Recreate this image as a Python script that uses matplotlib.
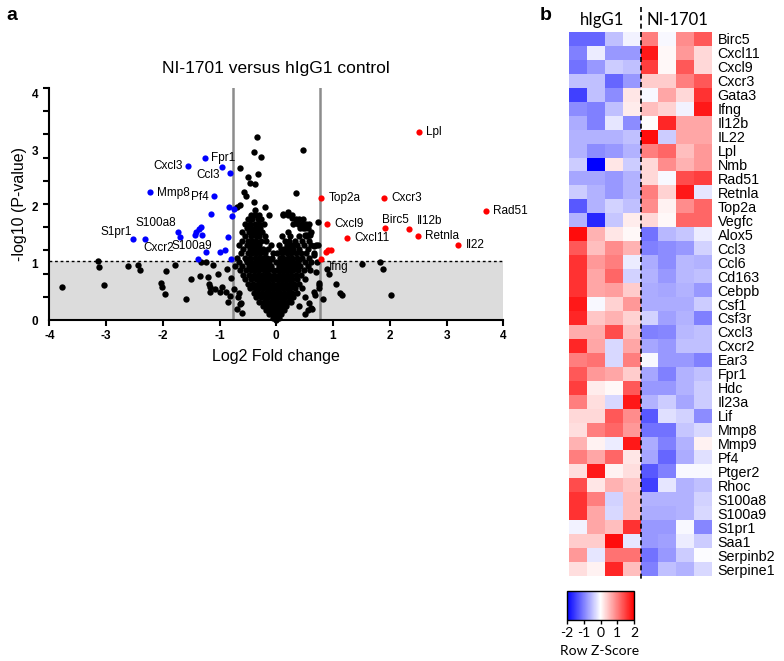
import numpy as np
import matplotlib
matplotlib.use('Agg')
import matplotlib.pyplot as plt
from matplotlib.colors import LinearSegmentedColormap

plt.rcParams['font.family'] = ['Liberation Sans', 'DejaVu Sans']
plt.rcParams['axes.unicode_minus'] = False

# ---------------- Volcano data ----------------
threshold = 1.05
fc_cut = 0.765

red_x = [2.517, 0.794, 1.905, 3.698, 1.922, 2.334, 2.498, 3.210, 0.899, 1.247, 0.876, 0.917, 0.965, 0.794]
red_y = [3.32, 2.15, 2.16, 1.92, 1.63, 1.60, 1.49, 1.32, 1.69, 1.45, 1.20, 1.24, 1.24, 1.07]
red_lab = ['Lpl', 'Top2a', 'Cxcr3', 'Rad51', 'Birc5', 'Il12b', 'Retnla', 'Il22', 'Cxcl9', 'Cxcl11', '', '', '', 'Ifng']

blue_x = [-1.258, -1.557, -0.965, -0.811, -2.234, -1.099, -1.152, -0.829, -0.753, -0.776,
          -1.728, -1.705, -2.517, -2.316, -1.44, -1.41, -1.37, -1.33, -1.31,
          -0.852, -1.240, -1.000, -0.899, -1.388, -0.799]
blue_y = [2.86, 2.73, 2.71, 2.60, 2.27, 2.19, 1.87, 1.99, 1.96, 1.84,
          1.56, 1.46, 1.43, 1.43, 1.51, 1.55, 1.61, 1.65, 1.50,
          1.47, 1.20, 1.20, 1.23, 1.08, 1.08]
blue_lab = ['Fpr1', 'Cxcl3', '', 'Ccl3', 'Mmp8', 'Pf4', '', '', '', '',
            'S100a8', 'S100a9', 'S1pr1', 'Cxcr2', '', '', '', '', '',
            '', '', '', '', '', '']

# label offsets in pixels (dx, dy, ha)
label_offsets = {
    'Fpr1': (6, 0, 'left'), 'Cxcl3': (-5, 0, 'right'), 'Ccl3': (-10, -2, 'right'),
    'Mmp8': (7, -1, 'left'), 'Pf4': (-5, -1, 'right'), 'S100a8': (-2, 9, 'right'),
    'S100a9': (-8, -9, 'left'), 'S1pr1': (-2, 7, 'right'), 'Cxcr2': (-1, -9, 'left'),
    'Lpl': (7, 0, 'left'), 'Top2a': (7, 0, 'left'), 'Cxcr3': (7, 0, 'left'),
    'Rad51': (7, 0, 'left'), 'Birc5': (-3, 8, 'left'), 'Il12b': (8, 8, 'left'),
    'Retnla': (7, 0, 'left'), 'Il22': (7, 0, 'left'), 'Cxcl9': (7, 0, 'left'),
    'Cxcl11': (7, 0, 'left'), 'Ifng': (8, -7.5, 'left'),
}

# sparse non-significant points
sparse_x = [-3.774, -3.134, -3.116, -3.028, -2.605, -2.44, -2.41, -2.028, -2.016, -1.97,
            -1.945, -1.787, -1.593, -1.505, -1.328, -1.34, -1.247, -1.212, -1.111, -1.18,
            -1.175, -1.17, -1.076, -1.028, -0.988, -0.958, -0.894, -0.87, -0.859, -0.647,
            -0.658, -0.72, -0.80, -0.75, -0.68, -0.62, -0.70, -0.82, -0.60,
            -0.341, -0.40, -0.265, 0.47, -0.635, -0.33, -0.50, -0.459, -0.37, -0.577,
            -0.53, 0.347, -0.40, -0.635, -0.693, -0.37, -0.206, -0.135, 0.11, 0.206,
            0.277, 0.347, 0.735, 0.47, 0.51, 0.57, 0.66, 0.73, 0.66, 0.45, 0.54, 0.60,
            0.92, 1.05, 1.13, 1.16, 2.02, 1.51, 1.82, 1.88, 0.746, 0.758, 0.69, 0.817,
            0.63, 0.70, 0.75, 0.66, 0.58, 0.55, 0.50, 0.62, 0.90]
sparse_y = [0.59, 1.05, 0.93, 0.61, 0.95, 0.97, 0.88, 0.65, 0.59, 0.46,
            0.87, 0.97, 0.37, 0.73, 1.03, 0.78, 1.02, 0.76, 0.97, 0.64,
            0.58, 0.50, 0.54, 0.81, 0.50, 0.59, 0.50, 0.90, 0.31, 0.29,
            0.47, 0.95, 0.75, 0.55, 0.40, 0.30, 0.20, 0.42, 0.12,
            3.24, 2.97, 2.88, 3.01, 2.68, 2.58, 2.53, 2.42, 2.40, 2.27,
            2.19, 2.24, 2.09, 2.04, 1.99, 1.95, 2.00, 1.86, 1.87, 1.90,
            1.81, 1.74, 1.74, 1.62, 1.50, 1.50, 1.30, 1.33, 1.15, 1.64, 1.50, 1.50,
            0.81, 0.64, 0.47, 0.44, 0.44, 0.99, 1.02, 0.90, 0.62, 0.56, 0.44, 0.37,
            0.19, 0.85, 0.65, 0.50, 0.30, 0.18, 0.10, 0.22, 0.90]

# dense central cloud, listed per -log10(P) level
cloud_rows = [
    (1.85, [-0.45, -0.38, -0.30, 0.12, 0.20, 0.28]),
    (1.78, [-0.50, -0.42, -0.33, -0.27, 0.35, 0.40, 0.47]),
    (1.70, [-0.55, -0.46, -0.38, -0.30, -0.22, 0.30, 0.38, 0.45, 0.52, 0.58]),
    (1.62, [-0.52, -0.44, -0.36, -0.28, 0.42, 0.50, 0.56]),
    (1.55, [-0.60, -0.48, -0.40, -0.33, -0.25, 0.20, 0.62]),
    (1.48, [-0.55, -0.45, -0.36, -0.30, -0.20, 0.10, 0.25, 0.40, 0.52]),
    (1.40, [-0.60, -0.50, -0.42, -0.35, -0.27, -0.18, 0.15, 0.22, 0.33, 0.45, 0.58]),
    (1.32, [-0.65, -0.52, -0.44, -0.38, -0.30, -0.10, 0.05, 0.18, 0.28, 0.36, 0.48, 0.62, 0.70]),
    (1.25, [-0.58, -0.47, -0.40, -0.32, -0.24, -0.15, 0.08, 0.14, 0.22, 0.30, 0.40, 0.55]),
    (1.18, [-0.62, -0.50, -0.43, -0.36, -0.28, -0.20, -0.05, 0.02, 0.10, 0.18, 0.26, 0.35, 0.44, 0.52, 0.66]),
    (1.10, [-0.70, -0.55, -0.46, -0.38, -0.31, -0.24, -0.16, -0.08, 0.06, 0.12, 0.20, 0.28, 0.36, 0.46, 0.58]),
    (1.02, [-0.66, -0.52, -0.44, -0.36, -0.28, -0.20, -0.12, 0.00, 0.08, 0.15, 0.23, 0.30, 0.38, 0.50, 0.62, 0.72]),
    (0.95, [-0.60, -0.48, -0.40, -0.34, -0.26, -0.18, -0.10, 0.04, 0.10, 0.17, 0.25, 0.33, 0.42, 0.55]),
    (0.88, [-0.64, -0.53, -0.45, -0.37, -0.30, -0.22, -0.14, -0.06, 0.02, 0.09, 0.16, 0.22, 0.30, 0.38, 0.48, 0.60]),
    (0.80, [-0.58, -0.48, -0.40, -0.33, -0.26, -0.19, -0.12, -0.04, 0.05, 0.12, 0.19, 0.26, 0.34, 0.44]),
    (0.72, [-0.55, -0.44, -0.36, -0.29, -0.22, -0.15, -0.08, 0.00, 0.07, 0.14, 0.21, 0.28, 0.36, 0.50]),
    (0.64, [-0.50, -0.41, -0.33, -0.26, -0.19, -0.12, -0.05, 0.03, 0.10, 0.17, 0.24, 0.31, 0.40]),
    (0.56, [-0.46, -0.37, -0.30, -0.23, -0.16, -0.10, -0.03, 0.04, 0.11, 0.18, 0.25, 0.33, 0.45]),
    (0.48, [-0.40, -0.32, -0.25, -0.18, -0.12, -0.06, 0.01, 0.07, 0.13, 0.20, 0.27, 0.36]),
    (0.40, [-0.35, -0.27, -0.20, -0.14, -0.08, -0.02, 0.04, 0.10, 0.16, 0.22, 0.30, 0.50]),
    (0.32, [-0.30, -0.22, -0.16, -0.10, -0.04, 0.02, 0.08, 0.14, 0.20, 0.26]),
    (0.24, [-0.24, -0.17, -0.11, -0.06, 0.00, 0.05, 0.11, 0.17, 0.40]),
    (0.17, [-0.18, -0.12, -0.07, -0.02, 0.03, 0.08, 0.13]),
    (0.10, [-0.12, -0.07, -0.03, 0.01, 0.05, 0.09]),
    (0.04, [-0.06, -0.02, 0.02, 0.05]),
    (0.00, [0.00]),
]

# ---------------- Heatmap data ----------------
heat_genes = ['Birc5', 'Cxcl11', 'Cxcl9', 'Cxcr3', 'Gata3', 'Ifng', 'Il12b', 'IL22', 'Lpl', 'Nmb',
              'Rad51', 'Retnla', 'Top2a', 'Vegfc', 'Alox5', 'Ccl3', 'Ccl6', 'Cd163', 'Cebpb', 'Csf1',
              'Csf3r', 'Cxcl3', 'Cxcr2', 'Ear3', 'Fpr1', 'Hdc', 'Il23a', 'Lif', 'Mmp8', 'Mmp9',
              'Pf4', 'Ptger2', 'Rhoc', 'S100a8', 'S100a9', 'S1pr1', 'Saa1', 'Serpinb2', 'Serpine1']
heat_groups = ['hIgG1', 'NI-1701']
zscores = [
    [-1.2, -1.2, -0.5, -0.1, 1.0, -0.05, 0.9, 1.3],
    [-1.0, -0.15, -0.8, -0.8, 1.8, 0.05, 0.8, 0.3],
    [-1.1, -0.8, -0.4, -0.5, 1.5, 0.05, 1.3, 0.3],
    [-0.5, -0.5, -1.2, -0.8, 0.4, 0.4, 1.0, 1.3],
    [-1.5, -0.5, -0.9, 0.2, -0.05, 0.7, 0.3, 1.6],
    [-0.9, -1.0, -0.5, 0.15, 0.5, 0.35, -0.1, 1.8],
    [-0.65, -1.0, -0.2, -0.9, 0.0, 1.7, 0.7, 0.7],
    [-0.6, -0.6, -0.6, -0.5, 1.9, -0.4, 0.7, 0.7],
    [-0.6, -0.9, -0.8, -0.6, 1.0, 1.2, 0.5, 0.8],
    [-0.4, -2.0, 0.2, -0.4, 0.3, 0.9, 0.6, 0.8],
    [-0.7, -0.7, -0.8, -0.6, 0.3, -0.05, 1.4, 1.5],
    [-0.4, -0.6, -0.8, -0.6, 1.0, 0.35, 1.8, -0.2],
    [-1.3, -0.6, -0.35, -0.5, 0.9, 0.1, 0.9, 1.2],
    [-0.6, -1.7, -0.45, 0.15, 0.3, 0.05, 1.2, 1.2],
    [1.9, 0.6, 0.2, 0.05, -1.1, -0.55, -0.45, -0.15],
    [1.3, 0.5, 0.9, 0.6, -1.0, -0.9, -0.8, -0.35],
    [1.6, 0.8, 1.0, -0.15, -0.65, -0.9, -0.55, -0.6],
    [1.6, 0.7, 1.2, -0.35, -0.6, -0.8, -0.55, -0.5],
    [1.6, 0.7, 0.75, 0.4, -0.65, -0.7, -0.6, -0.8],
    [1.8, -0.05, 0.35, 0.8, -0.65, -0.65, -0.65, -0.4],
    [1.7, 0.45, 0.6, 0.35, -0.35, -0.75, -0.6, -1.0],
    [0.65, 0.65, 1.4, 0.5, -1.0, -0.95, -0.55, -0.5],
    [1.7, 0.7, -0.3, 0.7, -0.7, -0.8, -0.5, -0.5],
    [1.0, 1.1, -0.3, 1.0, -0.05, -0.8, -0.8, -1.0],
    [1.3, 0.8, 0.7, 0.4, -0.7, -1.0, -0.6, -0.5],
    [1.5, 0.15, 0.05, 1.3, -0.8, -0.8, -0.6, -0.4],
    [1.0, 0.25, -0.3, 1.8, -0.6, -0.4, -0.7, -0.4],
    [0.3, 0.3, 1.3, 0.9, -1.3, -0.25, -0.35, -0.9],
    [0.25, 1.0, 1.2, 0.8, -1.1, -1.1, -0.45, -0.3],
    [0.6, 0.1, -0.15, 1.8, -0.65, -1.0, -0.6, 0.1],
    [1.0, 0.7, 1.2, 0.2, -0.7, -1.2, -0.65, -0.25],
    [0.25, 1.8, 0.1, 0.25, -1.3, -1.0, -0.05, -0.05],
    [1.4, 0.2, 0.6, 0.45, -1.5, -0.2, -0.6, -0.5],
    [1.6, 1.0, -0.35, 0.5, -0.6, -0.6, -0.6, -0.35],
    [1.6, 0.7, -0.3, 0.5, -0.65, -0.65, -0.6, -0.3],
    [-0.1, 0.7, 0.5, 1.6, -0.8, -0.8, -0.05, -0.95],
    [0.4, 0.4, 1.9, -0.2, -0.8, -0.75, -0.15, -0.4],
    [0.8, -0.2, 1.1, 1.1, -1.1, -0.8, -0.4, -0.03],
    [0.25, 0.1, 1.7, 0.5, -1.0, -0.5, -0.6, -0.3],
]
cbar_ticks = [-2, -1, 0, 1, 2]

# ---------------- Figure ----------------
W, H = 784, 661
fig = plt.figure(figsize=(W / 100, H / 100), dpi=100)

def fx(px):
    return px / W

def fy(py):
    return 1 - py / H

# ---- panel a: volcano ----
ax = fig.add_axes([fx(49.3), fy(320), fx(503.3) - fx(49.3), fy(88) - fy(320)])
ax.set_xlim(-4, 4)
ax.set_ylim(0, 4.1)
ax.fill_between([-4, 4], 0, threshold, color='#dcdcdc', zorder=0, lw=0)
ax.plot([-4, 4], [threshold, threshold], color='k', lw=1.0, ls=(0, (2, 2)), zorder=1)
for v in (-fc_cut, fc_cut):
    ax.axvline(v, color='#8c8c8c', lw=1.8, zorder=1)

cx, cy = [], []
for yv, xs in cloud_rows:
    cx.extend(xs)
    cy.extend([yv] * len(xs))
ax.scatter(sparse_x + cx, sparse_y + cy, s=21, color='black', lw=0, zorder=3, clip_on=False)
ax.scatter(blue_x, blue_y, s=20, color='#0000ff', lw=0, zorder=4, clip_on=False)
ax.scatter(red_x, red_y, s=20, color='#ff0000', lw=0, zorder=4, clip_on=False)

for xs, ys, labs in ((blue_x, blue_y, blue_lab), (red_x, red_y, red_lab)):
    for x, y, lab in zip(xs, ys, labs):
        if not lab:
            continue
        dx, dy, ha = label_offsets[lab]
        ax.annotate(lab, (x, y), xytext=(dx, dy), textcoords='offset pixels',
                    ha=ha, va='center', fontsize=8.5, zorder=5)

for sp in ('top', 'right'):
    ax.spines[sp].set_visible(False)
for sp in ('left', 'bottom'):
    ax.spines[sp].set_linewidth(1.5)
ax.set_xticks(range(-4, 5))
ax.set_xticklabels([str(v) for v in range(-4, 5)], fontweight='bold', fontsize=8.5)
ax.tick_params(axis='x', length=4, width=1.5, direction='out', pad=3)
ax.set_yticks(range(0, 5))
ax.set_yticklabels([str(v) for v in range(0, 5)], fontweight='bold', fontsize=8.5)
ax.tick_params(axis='y', which='major', length=0, pad=8)
ax.set_yticks(np.linspace(0, 4.1, 11), minor=True)
ax.tick_params(axis='y', which='minor', length=4, width=1.5, direction='out')

fig.text(fx(276), fy(68), 'NI-1701 versus hIgG1 control', ha='center', va='center', fontsize=12.5)
fig.text(fx(276), fy(357), 'Log2 Fold change', ha='center', va='center', fontsize=11.5)
fig.text(fx(20), fy(204), '-log10 (P-value)', ha='center', va='center', fontsize=11.5, rotation=90)
fig.text(fx(12), fy(15), 'a', ha='center', va='center', fontsize=14, fontweight='bold')
fig.text(fx(546), fy(15), 'b', ha='center', va='center', fontsize=14, fontweight='bold')

# ---- panel b: heatmap ----
cmap = LinearSegmentedColormap.from_list('bwr_z', ['#0000ff', '#ffffff', '#ff0000'])
zarr = np.array(zscores)
nrow, ncol = zarr.shape
axh = fig.add_axes([fx(569), fy(576), fx(712) - fx(569), fy(32) - fy(576)])
mesh = axh.pcolormesh(np.arange(ncol + 1), np.arange(nrow + 1), zarr, cmap=cmap, vmin=-2, vmax=2)
axh.set_xlim(0, ncol)
axh.set_ylim(nrow, 0)
for sp in axh.spines.values():
    sp.set_visible(False)
axh.set_xticks([])
axh.yaxis.tick_right()
axh.set_yticks(np.arange(nrow) + 0.5)
axh.set_yticklabels(heat_genes, fontsize=10.3)
axh.tick_params(axis='y', length=0, pad=4)
axh.plot([ncol / 2, ncol / 2], [-1.8, nrow + 0.3], color='k', lw=1.2, ls=(0, (3, 2)), clip_on=False)

fig.text(fx(602), fy(20), heat_groups[0], ha='center', va='center', fontsize=12, family=['Lato', 'DejaVu Sans'])
fig.text(fx(677), fy(20), heat_groups[1], ha='center', va='center', fontsize=12, family=['Lato', 'DejaVu Sans'])

axc = fig.add_axes([fx(567), fy(620), fx(634) - fx(567), fy(591) - fy(620)])
cb = fig.colorbar(mesh, cax=axc, orientation='horizontal', ticks=cbar_ticks)
cb.outline.set_linewidth(1.0)
axc.tick_params(axis='x', length=3, width=1, pad=2, labelsize=10)
for t in axc.get_xticklabels():
    t.set_family(['Lato', 'DejaVu Sans'])
fig.text(fx(600), fy(651), 'Row Z-Score', ha='center', va='center', fontsize=10, family=['Lato', 'DejaVu Sans'])

fig.savefig('out.png', dpi=100)
